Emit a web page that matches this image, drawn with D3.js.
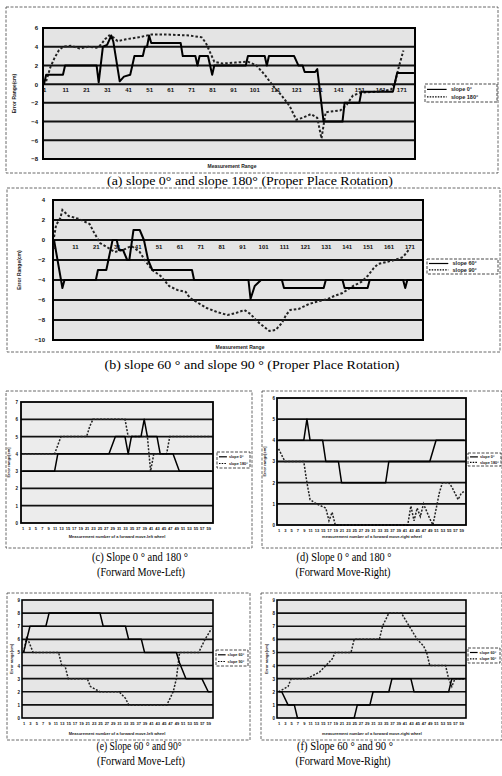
<!DOCTYPE html>
<html><head><meta charset="utf-8">
<script src="https://cdn.jsdelivr.net/npm/d3@7/dist/d3.min.js"></script>
<style>body{margin:0;background:#fff} svg{display:block}</style>
</head><body>
<svg id="fig" width="502" height="776"></svg>
<script>
// ---------- DATA ----------
// (a) slope 0 (solid) / slope 180 (dotted), proper place rotation
const aXTicks = [1,11,21,31,41,51,61,71,81,91,101,111,121,131,141,151,161,171];
const aYTicks = [-8,-6,-4,-2,0,2,4,6];
const aSolidX = [1,2,10,11,26,27,29,31,33,34,37,39,42,43,44,48,49,50,51,52,66,67,73,74,75,79,81,82,97,98,106,107,108,120,122,124,125,130,131,134,143,144,151,152,167,169,177];
const aSolidY = [0,1,1,2,2,0.2,4,4.2,5.2,4.5,0.3,0.8,1,2,3,3,4,4,5.2,4.4,4.4,3,3,2,3,3,1,2,2,3,3,2,3,3,2,2,1.3,1.3,1.6,-4,-4,-2,-2,-0.8,-0.8,1.2,1.2];
const aDotX = [2,4,6,8,10,14,18,22,26,28,30,32,34,36,40,46,52,60,70,76,78,80,82,86,92,98,102,106,110,114,118,121,124,128,131,133,135,142,145,148,152,160,166,168,170,172];
const aDotY = [0.3,1.8,2.8,3.6,4.0,4.1,3.8,4.0,3.9,4.2,4.8,5.2,5.0,4.6,4.8,5.0,5.3,5.3,5.2,5.0,4.4,3.4,2.4,2.2,2.3,2.4,2.0,1.0,-0.2,-1.2,-2.4,-3.8,-3.6,-3.2,-3.6,-5.8,-3.0,-2.8,-2.2,-1.2,-0.9,-0.8,-0.6,0.2,2.0,3.6];

// (b) slope 60 (solid) / slope 90 (dotted), proper place rotation
const bXTicks = [1,11,21,31,41,51,61,71,81,91,101,111,121,131,141,151,161,171];
const bYTicks = [-10,-8,-6,-4,-2,0,2,4];
const bSolidX = [1,5,6,21,22,26,27,29,31,32,34,36,37,39,42,44,46,48,67,68,94,95,97,100,110,111,130,131,139,140,151,152,168,169,170,177];
const bSolidY = [0,-4.8,-4,-4,-3,-3,-2,0,0,-1,-1,-2,-2,1,1,0,-2,-3,-3,-4,-4,-5.9,-4.6,-4,-4,-4.8,-4.8,-4,-4,-4.8,-4.8,-4,-4,-4.8,-4,-4];
const bDotX = [1,2,4,5,8,13,18,20,23,27,30,34,38,42,45,48,52,56,60,64,66,70,74,79,84,88,92,95,98,101,104,107,110,112,114,118,123,128,132,135,139,144,148,151,154,156,160,164,168,171];
const bDotY = [0.3,1.5,2.2,3.0,2.4,2.1,1.6,0.8,-0.3,-0.8,-1.2,-1.0,-0.6,-1.2,-2.2,-3.0,-3.6,-4.6,-5.0,-5.2,-5.8,-6.3,-6.8,-7.2,-7.5,-7.3,-7.0,-7.4,-8.1,-8.6,-9.1,-9.0,-8.3,-7.5,-7.0,-6.9,-6.4,-6.1,-5.9,-5.6,-5.3,-4.6,-4.2,-3.6,-2.8,-2.4,-2.2,-2.0,-1.7,-0.9];

// (c)-(f) forward move, measurement numbers
const fwdXTicks = [1,3,5,7,9,11,13,15,17,19,21,23,25,27,29,31,33,35,37,39,41,43,45,47,49,51,53,55,57,59];
const cYTicks = [0,1,2,3,4,5,6,7];
const cSolidX = [1,11,12,28,30,33,34,35,38,39,40,43,44,48,50,60];
const cSolidY = [3,3,4,4,5,5,4,5,5,6,5,5,4,4,3,3];
const cDotX = [1,11,12,13,21,22,23,33,34,40,41,42,46,47,60];
const cDotY = [4,4,4.5,5,5,5.6,6,6,5,5,3,4,4,5,5];

const dYTicks = [0,1,2,3,4,5,6];
const dSolidX = [1,9,10,11,15,16,20,21,35,36,49,51,60];
const dSolidY = [4,4,5,4,4,3,3,2,2,3,3,4,4];
const dDotX = [1,3,9,10,11,13,16,17,18,19,42,43,44,45,46,47,49,50,52,53,55,56,58,59,60];
const dDotY = [3.6,3,3,2,1.2,1,0.8,0.2,0.6,0,0,0.9,0.2,0.8,0.4,1,0.3,0,1.5,2,2,1.8,1.2,1.5,1.6];

const eYTicks = [0,1,2,3,4,5,6,7,8,9];
const eSolidX = [1,2,3,8,9,25,26,33,34,38,39,49,50,52,57,59,60];
const eSolidY = [5,6,7,7,8,8,7,7,6,6,5,5,4.2,3,3,2,2];
const eDotX = [1,2,3,4,12,13,14,15,21,22,25,31,33,34,46,47,48,49,50,56,58,60];
const eDotY = [5,6.2,5.6,5,5,4,4,3,3,2.4,2,2,1.5,1,1,1.5,2,3,5,5,6,6.8];

const fYTicks = [0,1,2,3,4,5,6,7,8,9];
const fSolidX = [1,2,4,6,7,25,26,30,31,36,37,43,44,55,56,60];
const fSolidY = [2,2,1,1,0,0,1,1,2,2,3,3,2,2,3,3];
const fDotX = [1,4,5,10,14,16,18,19,24,25,33,34,36,40,42,45,47,48,49,54,55,56,57,60];
const fDotY = [2,2.4,3,3,3.5,4,4.5,5,5,6,6,7,8,8,7.2,6,5.5,5,4,4,3,2.4,3,3];

// ---------- DRAWING ----------
const svg = d3.select('#fig');
const serif = '"Liberation Serif","Times New Roman",serif';
const sans = '"Liberation Sans",Arial,sans-serif';

function panel(c) {
  const g = svg.append('g');
  g.append('rect').attr('x', c.box[0]).attr('y', c.box[1]).attr('width', c.box[2]).attr('height', c.box[3])
    .attr('fill', 'none').attr('stroke', '#444').attr('stroke-width', 0.8).attr('stroke-dasharray', '3,1.5');

  const x = d3.scaleLinear().domain([0.5, c.n + 0.5]).range([c.px0, c.px1]);
  const y = d3.scaleLinear().domain([c.yTicks[0], c.yTicks[c.yTicks.length - 1]]).range([c.py1, c.py0]);

  g.append('rect').attr('x', c.px0).attr('y', c.py0).attr('width', c.px1 - c.px0).attr('height', c.py1 - c.py0)
    .attr('fill', c.bg);

  // gridlines
  g.selectAll('line.grid').data(c.yTicks.slice(1, -1)).join('line')
    .attr('x1', c.px0).attr('x2', c.px1).attr('y1', d => y(d)).attr('y2', d => y(d))
    .attr('stroke', '#111').attr('stroke-width', c.gw);

  const line = d3.line().x(d => x(d[0])).y(d => y(d[1]));
  g.append('path').datum(d3.zip(c.dotX, c.dotY)).attr('d', line).attr('fill', 'none')
    .attr('stroke', '#222').attr('stroke-width', c.lw).attr('stroke-dasharray', c.dash);
  g.append('path').datum(d3.zip(c.solidX, c.solidY)).attr('d', line).attr('fill', 'none')
    .attr('stroke', '#000').attr('stroke-width', c.lw).attr('stroke-linejoin', 'round');

  g.append('rect').attr('x', c.px0).attr('y', c.py0).attr('width', c.px1 - c.px0).attr('height', c.py1 - c.py0)
    .attr('fill', 'none').attr('stroke', '#000').attr('stroke-width', c.gw);

  // y axis labels
  const ya = g.append('g').attr('transform', `translate(${c.yLabX},0)`)
    .call(d3.axisLeft(y).tickValues(c.yTicks).tickFormat(d3.format('d')).tickSize(0).tickPadding(0));
  ya.select('.domain').remove();
  ya.selectAll('text').attr('font-family', sans).attr('font-weight', 'bold').attr('font-size', c.fs).attr('fill', '#111');

  // x axis labels
  const xa = g.append('g').attr('transform', `translate(0,${c.xAxisY})`)
    .call(d3.axisBottom(x).tickValues(c.xTicks).tickFormat(d3.format('d')).tickSize(0).tickPadding(c.xPad));
  xa.select('.domain').remove();
  xa.selectAll('text').attr('font-family', sans).attr('font-weight', 'bold').attr('font-size', c.xfs).attr('fill', '#111');

  // axis titles
  g.append('text').attr('transform', `translate(${c.yTitleX},${(c.py0 + c.py1) / 2}) rotate(-90)`)
    .attr('text-anchor', 'middle').attr('font-family', sans).attr('font-weight', 'bold')
    .attr('font-size', c.tfs).attr('fill', '#222').text(c.yTitle);
  g.append('text').attr('x', c.xTitle[0]).attr('y', c.xTitle[1]).attr('text-anchor', 'middle')
    .attr('font-family', sans).attr('font-weight', 'bold').attr('font-size', c.tfs).attr('fill', '#222').text(c.xTitleText);

  // legend
  const L = c.legend;
  g.append('rect').attr('x', L[0]).attr('y', L[1]).attr('width', L[2]).attr('height', L[3])
    .attr('fill', '#fff').attr('stroke', '#333').attr('stroke-width', 0.9).attr('stroke-dasharray', '3,1.5');
  const rows = [{t: c.names[0], dash: null}, {t: c.names[1], dash: c.dash}];
  rows.forEach((r, i) => {
    const yy = L[1] + L[3] * (i === 0 ? 0.3 : 0.72);
    const ln = g.append('line').attr('x1', L[0] + 2).attr('x2', L[0] + L[2] * 0.3).attr('y1', yy).attr('y2', yy)
      .attr('stroke', '#000').attr('stroke-width', 1.2);
    if (r.dash) ln.attr('stroke-dasharray', '1.5,1.2');
    g.append('text').attr('x', L[0] + L[2] * 0.36).attr('y', yy).attr('dy', '0.35em')
      .attr('font-family', sans).attr('font-weight', 'bold').attr('font-size', c.lfs).attr('fill', '#222').text(r.t);
  });

  // captions
  c.caps.forEach(cp => {
    g.append('text').attr('x', cp[1]).attr('y', cp[2]).attr('text-anchor', 'middle')
      .attr('font-family', serif).attr('font-size', 12).attr('fill', '#000')
      .attr('textLength', cp[3]).attr('lengthAdjust', 'spacingAndGlyphs').text(cp[0]);
  });
}

panel({box: [6, 7, 492, 166], px0: 43, px1: 415, py0: 28, py1: 159, n: 177,
  yTicks: aYTicks, xTicks: aXTicks, solidX: aSolidX, solidY: aSolidY, dotX: aDotX, dotY: aDotY,
  bg: '#e4e4e4', gw: 2, lw: 2, dash: '2.5,2', yLabX: 38, xAxisY: 85, xPad: 3, fs: 6, xfs: 6, tfs: 5,
  yTitleX: 16, yTitle: 'Error Range(cm)', xTitle: [232, 168], xTitleText: 'Measurement Range',
  legend: [425, 84, 72, 18], lfs: 5.5, names: ['slope 0°', 'slope 180°'],
  caps: [['(a) slope 0°  and slope 180°  (Proper Place Rotation)', 250, 185, 286]]});

panel({box: [7, 188, 493, 164], px0: 53, px1: 423, py0: 200, py1: 340, n: 177,
  yTicks: bYTicks, xTicks: bXTicks, solidX: bSolidX, solidY: bSolidY, dotX: bDotX, dotY: bDotY,
  bg: '#e4e4e4', gw: 2, lw: 2, dash: '2.5,2', yLabX: 45, xAxisY: 241, xPad: 4, fs: 6, xfs: 6, tfs: 5,
  yTitleX: 21, yTitle: 'Error Range(cm)', xTitle: [240, 349], xTitleText: 'Measurement Range',
  legend: [427, 259, 71, 15], lfs: 5.5, names: ['slope 60°', 'slope 90°'],
  caps: [['(b) slope 60 °  and slope 90 °  (Proper Place Rotation)', 252, 369, 295]]});

panel({box: [6, 391, 246, 157], px0: 21, px1: 213, py0: 402, py1: 523, n: 60,
  yTicks: cYTicks, xTicks: fwdXTicks, solidX: cSolidX, solidY: cSolidY, dotX: cDotX, dotY: cDotY,
  bg: '#ececec', gw: 1.8, lw: 1.5, dash: '2,1.5', yLabX: 18, xAxisY: 523, xPad: 4, fs: 4.5, xfs: 4, tfs: 4,
  yTitleX: 10, yTitle: 'Error range[cm]', xTitle: [117, 538], xTitleText: 'Measurement number of a forward move-left wheel',
  legend: [217, 452, 33, 16], lfs: 3.8, names: ['slope 0°', 'slope 180°'],
  caps: [['(c) Slope 0 °  and 180 °', 140, 561, 96], ['(Forward Move-Left)', 141, 576, 88]]});

panel({box: [262, 391, 240, 157], px0: 277, px1: 466, py0: 398, py1: 525, n: 60,
  yTicks: dYTicks, xTicks: fwdXTicks, solidX: dSolidX, solidY: dSolidY, dotX: dDotX, dotY: dDotY,
  bg: '#ececec', gw: 1.8, lw: 1.5, dash: '2,1.5', yLabX: 275, xAxisY: 525, xPad: 4, fs: 4.5, xfs: 4, tfs: 4,
  yTitleX: 266, yTitle: 'Error range[cm]', xTitle: [372, 538], xTitleText: 'measurement number of a forward move-right wheel',
  legend: [468, 453, 33, 13], lfs: 3.8, names: ['slope 0°', 'slope 180°'],
  caps: [['(d) Slope 0 °  and 180 °', 344, 561, 95], ['(Forward Move-Right)', 343, 576, 95]]});

panel({box: [7, 593, 243, 147], px0: 22, px1: 213, py0: 600, py1: 718, n: 60,
  yTicks: eYTicks, xTicks: fwdXTicks, solidX: eSolidX, solidY: eSolidY, dotX: eDotX, dotY: eDotY,
  bg: '#e6e6e6', gw: 1.6, lw: 1.5, dash: '2,1.5', yLabX: 20, xAxisY: 718, xPad: 4, fs: 4.5, xfs: 4, tfs: 4,
  yTitleX: 13, yTitle: 'Error range[cm]', xTitle: [117, 735], xTitleText: 'Measurement number of a forward move-left wheel',
  legend: [216, 650, 32, 16], lfs: 3.8, names: ['slope 60°', 'slope 90°'],
  caps: [['(e) Slope 60 °  and 90°', 139, 750, 85], ['(Forward Move-Left)', 141, 765, 88]]});

panel({box: [261, 593, 241, 147], px0: 277, px1: 466, py0: 600, py1: 718, n: 60,
  yTicks: fYTicks, xTicks: fwdXTicks, solidX: fSolidX, solidY: fSolidY, dotX: fDotX, dotY: fDotY,
  bg: '#e6e6e6', gw: 1.6, lw: 1.5, dash: '2,1.5', yLabX: 275, xAxisY: 718, xPad: 4, fs: 4.5, xfs: 4, tfs: 4,
  yTitleX: 268, yTitle: 'Error range[cm]', xTitle: [372, 735], xTitleText: 'measurement number of a forward move-right wheel',
  legend: [468, 648, 32, 15], lfs: 3.8, names: ['slope 60°', 'slope 90°'],
  caps: [['(f) Slope 60 °  and 90 °', 345, 750, 96], ['(Forward Move-Right)', 343, 765, 95]]});
</script>
</body></html>
